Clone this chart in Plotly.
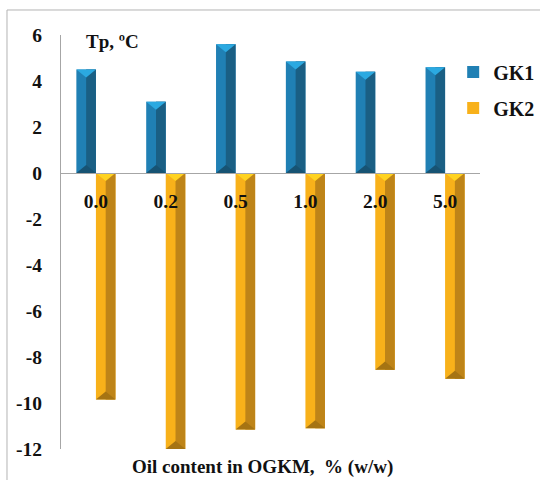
import plotly.graph_objects as go

# Pour point shift (Tp, ºC) versus oil content of the OGKM
categories = ["0.0", "0.2", "0.5", "1.0", "2.0", "5.0"]
gk1 = [4.5, 3.1, 5.6, 4.85, 4.4, 4.6]
gk2 = [-9.85, -12.0, -11.15, -11.1, -8.55, -8.95]
y_ticks = [6, 4, 2, 0, -2, -4, -6, -8, -10, -12]
y_tick_text = ["6", "4", "2", "0", "-2", "-4", "-6", "-8", "-10", "-12"]

FONT = "Liberation Serif"
BAR_W = 0.28          # bar width in category units
BEVEL = 0.35          # bevel depth in value units

styles = {
    "GK1": dict(base="#2080B4", dark="#1A5F84", top="#2BA9E1", bottom="#175373"),
    "GK2": dict(base="#F8B11A", dark="#BE8418", top="#FFD321", bottom="#A67413"),
}

x_idx = list(range(len(categories)))
fig = go.Figure()


def bevel_polys(xs, starts, ends, offset):
    """Triangles at one end of every bar: base at the bar end, apex toward the bar body."""
    px, py = [], []
    for x, s, e in zip(xs, starts, ends):
        left = x + offset
        right = left + BAR_W
        mid = left + BAR_W / 2
        d = BEVEL if e > s else -BEVEL
        px += [left, right, mid, left, None]
        py += [e, e, e - d, e, None]
    return px, py


for name, vals, off in (("GK1", gk1, -BAR_W), ("GK2", gk2, 0.0)):
    st = styles[name]
    # full bar (lit left face)
    fig.add_trace(go.Bar(
        x=x_idx, y=vals, width=BAR_W, offset=off, name=name,
        marker=dict(color=st["base"], line=dict(width=0)),
        legendgroup=name, showlegend=True,
    ))
    # shaded right face
    fig.add_trace(go.Bar(
        x=x_idx, y=vals, width=BAR_W / 2, offset=off + BAR_W / 2,
        marker=dict(color=st["dark"], line=dict(width=0)),
        legendgroup=name, showlegend=False, hoverinfo="skip",
    ))
    # upper bevel (at the higher end of each bar) and lower bevel
    hi_end = [max(v, 0) for v in vals]
    lo_end = [min(v, 0) for v in vals]
    px, py = bevel_polys(x_idx, lo_end, hi_end, off)
    fig.add_trace(go.Scatter(
        x=px, y=py, mode="lines", fill="toself", fillcolor=st["top"],
        line=dict(width=0), legendgroup=name, showlegend=False, hoverinfo="skip",
    ))
    px, py = bevel_polys(x_idx, hi_end, lo_end, off)
    fig.add_trace(go.Scatter(
        x=px, y=py, mode="lines", fill="toself", fillcolor=st["bottom"],
        line=dict(width=0), legendgroup=name, showlegend=False, hoverinfo="skip",
    ))

y_min, y_max = -12, 6
zero_pos = (0 - y_min) / (y_max - y_min)

fig.update_layout(
    width=540, height=480,
    margin=dict(l=61, r=60, t=35, b=31, autoexpand=False),
    paper_bgcolor="white", plot_bgcolor="white",
    barmode="overlay",
    font=dict(family=FONT, size=19, color="#111111"),
    xaxis=dict(
        range=[-0.5, 5.5], tickvals=x_idx, ticktext=categories,
        anchor="free", position=zero_pos,
        showline=True, linecolor="#A6A6A6", linewidth=1.3,
        showgrid=False, zeroline=False, ticks="",
        tickfont=dict(family=FONT, size=19.5, weight="bold", color="#111111"),
        ticklabelstandoff=10, layer="above traces",
    ),
    yaxis=dict(
        range=[y_min, y_max], tickvals=y_ticks, ticktext=y_tick_text,
        showline=True, linecolor="#A6A6A6", linewidth=1.3,
        showgrid=False, zeroline=False, ticks="",
        tickfont=dict(family=FONT, size=19.5, weight="bold", color="#111111"),
        ticklabelstandoff=14,
    ),
    legend=dict(
        x=0.936, y=0.958, xanchor="left", yanchor="top",
        font=dict(family=FONT, size=20, weight="bold", color="#111111"),
        traceorder="grouped", tracegroupgap=7,
        bgcolor="rgba(0,0,0,0)",
    ),
    annotations=[
        dict(text="Tp, ºC", x=0.055, y=0.985, xref="paper", yref="paper",
             xanchor="left", yanchor="middle", showarrow=False,
             font=dict(family=FONT, size=19, weight="bold", color="#111111")),
        dict(text="Oil content in OGKM,  % (w/w)", x=0.48, y=-0.043,
             xref="paper", yref="paper", xanchor="center", yanchor="middle",
             showarrow=False,
             font=dict(family=FONT, size=19, weight="bold", color="#111111")),
    ],
    shapes=[
        dict(type="rect", xref="paper", yref="paper",
             x0=-0.1289, y0=-0.3, x1=1.3, y1=1.0604,
             line=dict(color="#B4B4B4", width=1), layer="below"),
    ],
)

fig.write_html("out.html")
